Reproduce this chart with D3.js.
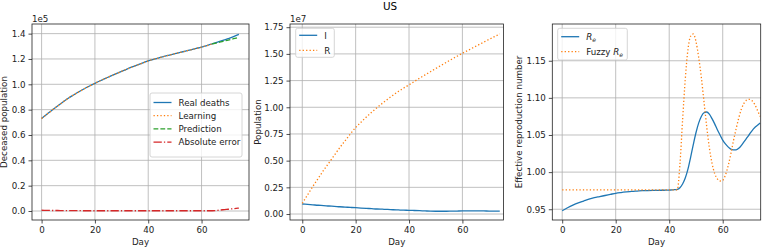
<!DOCTYPE html>
<html>
<head>
<meta charset="utf-8">
<script src="https://cdn.jsdelivr.net/npm/d3@7"></script>
<style>
  html, body { margin: 0; padding: 0; background: #fff; }
  svg { display: block; font-family: 'DejaVu Sans', sans-serif; }
</style>
</head>
<body>
<div id="chart"></div>
<script>
// ---- data ----
const days = [0, 2, 4, 6, 8, 10, 12, 14, 16, 18, 20, 22, 24, 26, 28, 30, 32, 34, 36, 38,
              40, 42, 44, 46, 48, 50, 52, 54, 56, 58, 60, 62, 64, 66, 68, 70, 72, 74];

// deceased population, x 1e5
const realDeaths = [0.731, 0.764, 0.797, 0.828, 0.860, 0.890, 0.916, 0.941, 0.965, 0.987,
                    1.008, 1.028, 1.047, 1.066, 1.084, 1.102, 1.120, 1.137, 1.153, 1.169,
                    1.185, 1.197, 1.209, 1.220, 1.231, 1.242, 1.252, 1.262, 1.272, 1.283,
                    1.294, 1.306, 1.319, 1.333, 1.347, 1.361, 1.376, 1.394];
const learningDays = [0, 2, 4, 6, 8, 10, 12, 14, 16, 18, 20, 22, 24, 26, 28, 30, 32, 34, 36, 38,
                      40, 42, 44, 46, 48, 50, 52, 54, 56, 58, 60, 62, 64];
const learning = [0.731, 0.764, 0.797, 0.828, 0.860, 0.890, 0.916, 0.941, 0.965, 0.987,
                  1.008, 1.028, 1.047, 1.066, 1.084, 1.102, 1.120, 1.137, 1.153, 1.169,
                  1.185, 1.197, 1.209, 1.220, 1.231, 1.242, 1.252, 1.262, 1.272, 1.283,
                  1.294, 1.306, 1.319];
const predictionDays = [64, 66, 68, 70, 72, 74];
const prediction = [1.320, 1.328, 1.339, 1.349, 1.360, 1.371];
const absError = [0.006, 0.005, 0.004, 0.004, 0.003, 0.003, 0.003, 0.003, 0.002, 0.002,
                  0.002, 0.002, 0.002, 0.002, 0.002, 0.002, 0.002, 0.002, 0.002, 0.002,
                  0.002, 0.002, 0.002, 0.002, 0.002, 0.002, 0.002, 0.002, 0.002, 0.002,
                  0.002, 0.002, 0.002, 0.005, 0.010, 0.014, 0.018, 0.023];

// infected / recovered, x 1e7
const infected = [0.094, 0.090, 0.086, 0.082, 0.079, 0.075, 0.072, 0.068, 0.065, 0.062,
                  0.059, 0.056, 0.053, 0.050, 0.047, 0.045, 0.043, 0.040, 0.038, 0.036,
                  0.035, 0.033, 0.031, 0.029, 0.027, 0.026, 0.026, 0.026, 0.027, 0.028,
                  0.029, 0.029, 0.029, 0.029, 0.029, 0.028, 0.028, 0.028];
const recovered = [0.100, 0.180, 0.260, 0.335, 0.410, 0.480, 0.550, 0.620, 0.685, 0.750,
                   0.810, 0.860, 0.908, 0.953, 0.996, 1.037, 1.076, 1.113, 1.148, 1.180,
                   1.210, 1.242, 1.273, 1.303, 1.333, 1.363, 1.392, 1.421, 1.450, 1.478,
                   1.506, 1.532, 1.558, 1.584, 1.610, 1.636, 1.661, 1.687];

// effective reproduction number
const reDays = [0, 2, 4, 6, 8, 10, 12, 14, 16, 18, 20, 22, 24, 26, 28, 30, 32, 34, 36, 38,
                40, 41, 42, 43, 44, 45, 46, 47, 48, 49, 50, 51, 52, 53, 54, 55, 56, 57,
                58, 59, 60, 61, 62, 63, 64, 65, 66, 67, 68, 69, 70, 71, 72, 73, 74];
const re = [0.948, 0.952, 0.9555, 0.9585, 0.961, 0.9635, 0.9655, 0.967, 0.9685, 0.970,
            0.9715, 0.9725, 0.9733, 0.974, 0.9745, 0.975, 0.9752, 0.9754, 0.9755, 0.9756,
            0.9757, 0.976, 0.9763, 0.9768, 0.979, 0.984, 0.992, 1.004, 1.020, 1.037,
            1.053, 1.066, 1.075, 1.080, 1.081, 1.078, 1.072, 1.065, 1.057, 1.050,
            1.043, 1.038, 1.034, 1.031, 1.030, 1.030, 1.032, 1.036, 1.041, 1.046,
            1.051, 1.056, 1.060, 1.063, 1.066];
const fuzzyRe = [0.976, 0.976, 0.976, 0.976, 0.976, 0.976, 0.976, 0.976, 0.976, 0.976,
                 0.976, 0.976, 0.976, 0.976, 0.976, 0.976, 0.976, 0.976, 0.976, 0.976,
                 0.976, 0.976, 0.976, 0.976, 1.010, 1.070, 1.125, 1.165, 1.183, 1.186,
                 1.176, 1.155, 1.128, 1.095, 1.062, 1.033, 1.012, 0.998, 0.991, 0.988,
                 0.989, 0.996, 1.008, 1.024, 1.042, 1.058, 1.073, 1.085, 1.093, 1.097,
                 1.098, 1.096, 1.091, 1.083, 1.075];

const xTicks = [0, 20, 40, 60];
const deathTicks = [0.0, 0.2, 0.4, 0.6, 0.8, 1.0, 1.2, 1.4];
const popTicks = [0.00, 0.25, 0.50, 0.75, 1.00, 1.25, 1.50, 1.75];
const reTicks = [0.95, 1.00, 1.05, 1.10, 1.15];

// ---- setup ----
const width = 770, height = 247;
const plotTop = 24, plotBottom = 220;
const C = { blue: '#1f77b4', orange: '#ff7f0e', green: '#2ca02c', red: '#d62728' };
const LW = 1.3;
const DASH = {
  solid: null,
  dotted: `${LW} ${LW * 1.65}`,
  dashed: `${LW * 3.7} ${LW * 1.6}`,
  dashdot: `${LW * 6.4} ${LW * 1.6} ${LW} ${LW * 1.6}`
};
const FS = 8.7;

const svg = d3.select('#chart').append('svg')
  .attr('width', width)
  .attr('height', height);

svg.append('text')
  .attr('x', 390).attr('y', 9.5)
  .attr('text-anchor', 'middle')
  .attr('font-size', 10.4)
  .attr('fill', '#000')
  .text('US');

function drawPanel(p) {
  const x = d3.scaleLinear().domain(p.xDomain).range([p.left, p.right]);
  const y = d3.scaleLinear().domain(p.yDomain).range([plotBottom, plotTop]);
  const g = svg.append('g');

  // grid
  g.append('g').selectAll('line').data(xTicks).join('line')
    .attr('x1', d => x(d)).attr('x2', d => x(d))
    .attr('y1', plotTop).attr('y2', plotBottom)
    .attr('stroke', '#b0b0b0').attr('stroke-width', 0.8);
  g.append('g').selectAll('line').data(p.yTicks).join('line')
    .attr('x1', p.left).attr('x2', p.right)
    .attr('y1', d => y(d)).attr('y2', d => y(d))
    .attr('stroke', '#b0b0b0').attr('stroke-width', 0.8);

  // series
  const clipId = 'clip' + Math.round(p.left);
  svg.append('clipPath').attr('id', clipId).append('rect')
    .attr('x', p.left).attr('y', plotTop)
    .attr('width', p.right - p.left).attr('height', plotBottom - plotTop);
  const lines = g.append('g').attr('clip-path', `url(#${clipId})`);
  p.series.forEach(s => {
    const line = d3.line()
      .x((d, i) => x(s.x[i]))
      .y(d => y(d))
      .curve(d3.curveMonotoneX);
    lines.append('path')
      .datum(s.y)
      .attr('d', line)
      .attr('fill', 'none')
      .attr('stroke', s.color)
      .attr('stroke-width', LW)
      .attr('stroke-dasharray', DASH[s.style]);
  });

  // axes
  const xAxis = d3.axisBottom(x).tickValues(xTicks).tickSize(3.5).tickPadding(3)
    .tickFormat(d3.format('d'));
  g.append('g')
    .attr('transform', `translate(0,${plotBottom})`)
    .call(xAxis)
    .call(a => a.select('.domain').remove())
    .call(a => a.selectAll('.tick line').attr('stroke', '#222').attr('stroke-width', 0.8))
    .call(a => a.selectAll('.tick text').attr('font-size', FS)
      .attr('font-family', 'DejaVu Sans').attr('fill', '#222'));

  const yAxis = d3.axisLeft(y).tickValues(p.yTicks).tickSize(3.5).tickPadding(3)
    .tickFormat(d3.format(p.yFormat));
  g.append('g')
    .attr('transform', `translate(${p.left},0)`)
    .call(yAxis)
    .call(a => a.select('.domain').remove())
    .call(a => a.selectAll('.tick line').attr('stroke', '#222').attr('stroke-width', 0.8))
    .call(a => a.selectAll('.tick text').attr('font-size', FS)
      .attr('font-family', 'DejaVu Sans').attr('fill', '#222'));

  // frame
  g.append('rect')
    .attr('x', p.left).attr('y', plotTop)
    .attr('width', p.right - p.left).attr('height', plotBottom - plotTop)
    .attr('fill', 'none').attr('stroke', '#222').attr('stroke-width', 0.8);

  // labels
  g.append('text')
    .attr('x', (p.left + p.right) / 2).attr('y', 245)
    .attr('text-anchor', 'middle').attr('font-size', FS).attr('fill', '#222')
    .text('Day');
  g.append('text')
    .attr('transform', `translate(${p.yLabelX},${(plotTop + plotBottom) / 2}) rotate(-90)`)
    .attr('text-anchor', 'middle').attr('font-size', FS).attr('fill', '#222')
    .text(p.yLabel);
  if (p.offset) {
    g.append('text')
      .attr('x', p.left).attr('y', 21.5)
      .attr('font-size', FS).attr('fill', '#222')
      .text(p.offset);
  }

  // legend
  const L = p.legend;
  const lg = g.append('g');
  lg.append('rect')
    .attr('x', L.x).attr('y', L.y).attr('width', L.w).attr('height', L.h)
    .attr('rx', 2).attr('fill', 'rgba(255,255,255,0.8)')
    .attr('stroke', '#cccccc').attr('stroke-width', 0.8);
  p.series.forEach((s, i) => {
    const yy = L.y + L.first + i * L.step;
    lg.append('line')
      .attr('x1', L.x + 3.5).attr('x2', L.x + 21.5)
      .attr('y1', yy).attr('y2', yy)
      .attr('stroke', s.color).attr('stroke-width', LW)
      .attr('stroke-dasharray', DASH[s.style]);
    const t = lg.append('text')
      .attr('x', L.x + 28.5).attr('y', yy + 3.2)
      .attr('font-size', FS).attr('fill', '#222');
    if (s.math) {
      if (s.prefix) t.append('tspan').text(s.prefix);
      t.append('tspan').attr('font-style', 'italic').text('R');
      t.append('tspan').attr('font-style', 'italic').attr('font-size', FS * 0.7)
        .attr('dy', 2).text('e');
    } else {
      t.text(s.label);
    }
  });
}

drawPanel({
  left: 32, right: 249, xDomain: [-3.6, 77.8],
  yDomain: [-0.071, 1.476], yTicks: deathTicks, yFormat: '.1f',
  yLabel: 'Deceased population', yLabelX: 7, offset: '1e5',
  series: [
    { x: days, y: realDeaths, color: C.blue, style: 'solid', label: 'Real deaths' },
    { x: learningDays, y: learning, color: C.orange, style: 'dotted', label: 'Learning' },
    { x: predictionDays, y: prediction, color: C.green, style: 'dashed', label: 'Prediction' },
    { x: days, y: absError, color: C.red, style: 'dashdot', label: 'Absolute error' }
  ],
  legend: { x: 150, y: 93, w: 92, h: 64, first: 9.5, step: 13.2 }
});

drawPanel({
  left: 290, right: 503.5, xDomain: [-4.6, 75.4],
  yDomain: [-0.056, 1.78], yTicks: popTicks, yFormat: '.2f',
  yLabel: 'Population', yLabelX: 261, offset: '1e7',
  series: [
    { x: days, y: infected, color: C.blue, style: 'solid', label: 'I' },
    { x: days, y: recovered, color: C.orange, style: 'dotted', label: 'R' }
  ],
  legend: { x: 295.7, y: 28.3, w: 38.6, h: 29, first: 7, step: 15 }
});

drawPanel({
  left: 552.3, right: 760.7, xDomain: [-3.7, 74.2],
  yDomain: [0.9355, 1.1995], yTicks: reTicks, yFormat: '.2f',
  yLabel: 'Effective reproduction number', yLabelX: 522, offset: null,
  series: [
    { x: reDays, y: re, color: C.blue, style: 'solid', math: true },
    { x: reDays, y: fuzzyRe, color: C.orange, style: 'dotted', math: true, prefix: 'Fuzzy ' }
  ],
  legend: { x: 557.7, y: 28.3, w: 69.6, h: 31.7, first: 8.4, step: 15 }
});
</script>
</body>
</html>
